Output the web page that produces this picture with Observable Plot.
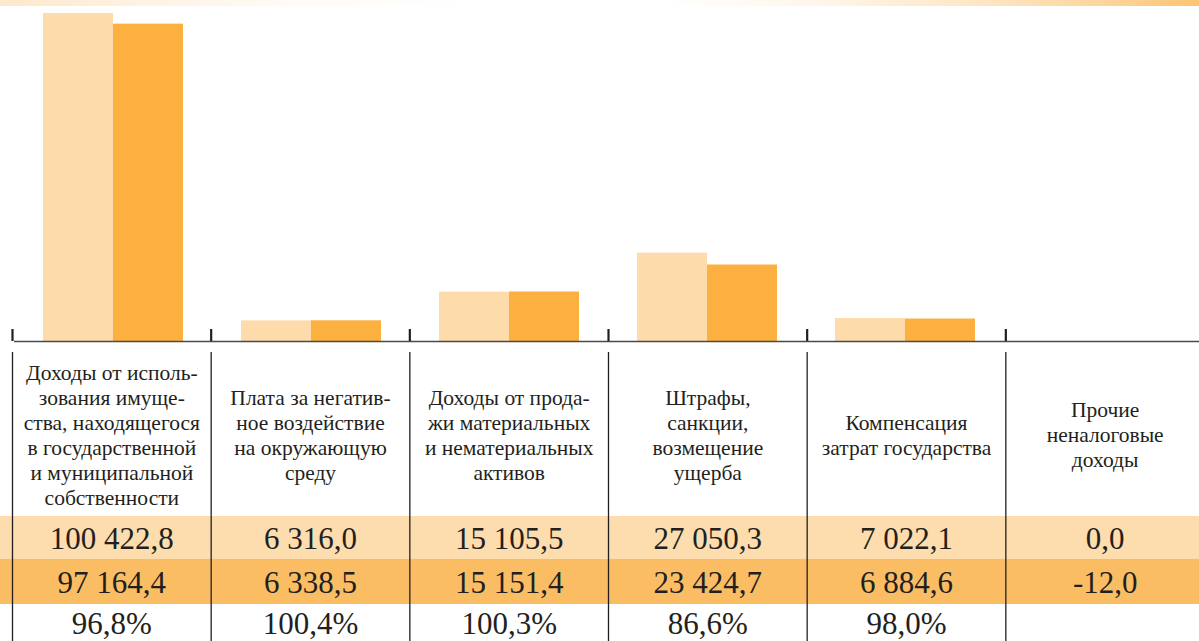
<!DOCTYPE html>
<html>
<head>
<meta charset="utf-8">
<script src="https://cdn.jsdelivr.net/npm/d3@7"></script>
<script src="https://cdn.jsdelivr.net/npm/@observablehq/plot@0.6"></script>
<style>
  html, body { margin: 0; padding: 0; background: #fff; overflow: hidden; font-family: "Liberation Serif", "Times New Roman", Tinos, serif; }
  #wrap { position: relative; width: 1199px; height: 641px; overflow: hidden; }
  #wrap > svg, #wrap > div { position: absolute; top: 0; left: 0; }
  #wrap > svg { max-width: none !important; }
  #strip { width: 1199px; height: 6px;
    background: linear-gradient(to right, #fde8cb 0%, #fef3e4 12%, #fffbf6 25%, #ffffff 40%, #ffffff 55%, #fff6ea 68%, #fee6c4 82%, #fdd398 93%, #fdc473 100%); }
</style>
</head>
<body>
<div id="wrap"><div id="strip"></div></div>
<script>
// ---- data ----
const categories = [
  "Доходы от использования имущества",
  "Плата за негативное воздействие",
  "Доходы от продажи активов",
  "Штрафы, санкции",
  "Компенсация затрат",
  "Прочие неналоговые доходы"
];
const labelLines = [
  ["Доходы от исполь-", "зования имуще-", "ства, находящегося", "в государственной", "и муниципальной", "собственности"],
  ["Плата за негатив-", "ное воздействие", "на окружающую", "среду"],
  ["Доходы от прода-", "жи материальных", "и нематериальных", "активов"],
  ["Штрафы,", "санкции,", "возмещение", "ущерба"],
  ["Компенсация", "затрат государства"],
  ["Прочие", "неналоговые", "доходы"]
];
const series = ["plan", "fact"];
const valuesPlan = [100422.8, 6316.0, 15105.5, 27050.3, 7022.1, 0.0];
const valuesFact = [97164.4, 6338.5, 15151.4, 23424.7, 6884.6, -12.0];
const percentLabels = ["96,8%", "100,4%", "100,3%", "86,6%", "98,0%", ""];

// ---- styles ----
const lightColor = "#fddbaa";
const darkColor = "#fbb040";
const rowLight = "#fddcad";
const rowDark = "#fbbd63";
const ink = "#231f20";
const serif = "Liberation Serif";

const fmt = d3.formatLocale({decimal: ",", thousands: " ", grouping: [3], currency: ["", ""], minus: "-"}).format(",.1f");

const barData = [];
categories.forEach((c, i) => {
  barData.push({category: c, series: "plan", value: valuesPlan[i]});
  barData.push({category: c, series: "fact", value: valuesFact[i]});
});

const wrap = document.getElementById("wrap");

// ---- bar chart ----
const bars = Plot.plot({
  width: 1204, height: 345,
  marginLeft: 12, marginRight: 0, marginTop: 13, marginBottom: 4,
  fx: {domain: categories, padding: 0, axis: null, label: null},
  x: {domain: series, paddingInner: 0, paddingOuter: 0.4, axis: null},
  y: {domain: [0, d3.max(valuesPlan)], axis: null},
  color: {domain: series, range: [lightColor, darkColor]},
  marks: [
    Plot.barY(barData, {fx: "category", x: "series", y: "value", fill: "series"}),
    Plot.ruleY([0], {stroke: "#4a4a4a", strokeWidth: 1.6})
  ]
});
bars.style.maxWidth = "none";
bars.style.background = "transparent";
wrap.appendChild(bars);

// ---- table ----
const n = categories.length;
const layout = {tickTop: 329, tickBottom: 341, gridTop: 352, gridBottom: 641,
  labelCenter: 435, lineStep: 25, row1: [516, 559], row2: [559, 604], pctY: 624};

const labelData = [];
labelLines.forEach((lines, i) => {
  lines.forEach((t, j) => labelData.push({col: i, text: t, y: layout.labelCenter + (j - (lines.length - 1) / 2) * layout.lineStep}));
});

const table = Plot.plot({
  width: 1204, height: 641,
  marginLeft: 0, marginRight: 0, marginTop: 0, marginBottom: 0,
  style: {fontFamily: serif},
  x: {type: "linear", domain: [0, n], range: [12, 1204], axis: null},
  y: {domain: [0, 641], range: [0, 641], axis: null},
  marks: [
    Plot.rect([layout.row1], {y1: d => d[0], y2: d => d[1], fill: rowLight}),
    Plot.rect([layout.row2], {y1: d => d[0], y2: d => d[1], fill: rowDark}),
    Plot.ruleX(d3.range(n + 1), {x: d => d, y1: layout.tickTop, y2: layout.tickBottom, stroke: ink, strokeWidth: 2.2}),
    Plot.ruleX(d3.range(n + 1), {x: d => d, y1: layout.gridTop, y2: layout.gridBottom, stroke: ink, strokeWidth: 1.3}),
    Plot.text(labelData, {x: d => d.col + 0.5, y: "y", text: "text", fontSize: 21.5, fontFamily: serif, fill: ink}),
    Plot.text(valuesPlan, {x: (d, i) => i + 0.5, y: () => (layout.row1[0] + layout.row1[1]) / 2 + 1, text: d => fmt(d), fontSize: 31, fontFamily: serif, fill: ink}),
    Plot.text(valuesFact, {x: (d, i) => i + 0.5, y: () => (layout.row2[0] + layout.row2[1]) / 2 + 1, text: d => fmt(d), fontSize: 31, fontFamily: serif, fill: ink}),
    Plot.text(percentLabels, {x: (d, i) => i + 0.5, y: () => layout.pctY, text: d => d, fontSize: 31, fontFamily: serif, fill: ink})
  ]
});
table.style.maxWidth = "none";
table.style.background = "transparent";
wrap.appendChild(table);
</script>
</body>
</html>
